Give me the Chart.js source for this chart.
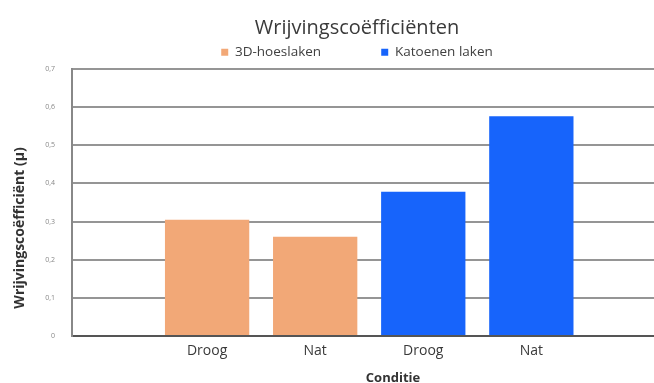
<!DOCTYPE html>
<html>
<head>
<meta charset="utf-8">
<script src="https://cdn.jsdelivr.net/npm/chart.js@4/dist/chart.umd.min.js"></script>
<style>
  body { margin: 0; background: #fff; }
  #wrap { width: 654px; height: 383px; overflow: hidden; }
  #vlak { width: 714px; height: 395px; }
</style>
</head>
<body>
<div id="wrap"><div id="vlak"><canvas id="grafico" width="714" height="395"></canvas></div></div>
<script>
// Wrijvingscoëfficiënten per conditie
const categorieen = ['Droog', 'Nat', 'Droog', 'Nat'];
const hoeslaken = [0.305, 0.26, null, null];
const katoen = [null, null, 0.378, 0.576];
const yTicks = [0, 0.1, 0.2, 0.3, 0.4, 0.5, 0.6, 0.7];

// bars op positie 1..4 van een lineaire as (zodat de as links vrij kan beginnen)
const punten = waarden => waarden
    .map((v, i) => ({ x: i + 1, y: v }))
    .filter(p => p.y !== null);

const komma = v => v === 0 ? '0' : v.toFixed(1).replace('.', ',');
const spaties = n => '\u00a0'.repeat(n);

Chart.defaults.font.family = '"Open Sans", sans-serif';

const ctx = document.getElementById('grafico').getContext('2d');
const grafiek = new Chart(ctx, {
    type: 'bar',
    data: {
        datasets: [
            { label: '3D-hoeslaken', data: punten(hoeslaken), backgroundColor: '#f2a877' },
            { label: 'Katoenen laken', data: punten(katoen), backgroundColor: '#1764fb' }
        ]
    },
    options: {
        responsive: false,
        animation: false,
        layout: { padding: 0 },
        datasets: {
            bar: { grouped: false, categoryPercentage: 1, barPercentage: 0.78 }
        },
        plugins: {
            title: {
                display: true,
                text: 'Wrijvingscoëfficiënten',
                color: '#3a3a3a',
                font: { size: 20, weight: 'normal' },
                padding: { top: 12, bottom: 1 }
            },
            legend: {
                labels: {
                    color: '#404040',
                    font: { size: 13.5 },
                    boxWidth: 7,
                    boxHeight: 7,
                    padding: 4,
                    generateLabels: chart => {
                        const items = Chart.defaults.plugins.legend.labels.generateLabels(chart);
                        items[0].text += spaties(16);
                        return items;
                    }
                }
            },
            tooltip: { enabled: false }
        },
        scales: {
            x: {
                type: 'linear',
                offset: false,
                min: -0.25,
                max: 5.69,
                afterBuildTicks: s => { s.ticks = categorieen.map((c, i) => ({ value: i + 1 })); },
                afterFit: s => { s.height = 59; },
                ticks: {
                    callback: (v, i) => categorieen[i],
                    color: '#3a3a3a',
                    font: { size: 14 },
                    padding: -1,
                    maxRotation: 0,
                    autoSkip: false
                },
                grid: { display: false },
                border: { color: '#555', width: 2 },
                title: {
                    display: true,
                    text: 'Conditie',
                    color: '#333',
                    font: { size: 13, weight: 'bold' },
                    padding: { top: 0, bottom: 9 }
                }
            },
            y: {
                min: 0,
                max: 0.7,
                afterBuildTicks: s => { s.ticks = yTicks.map(v => ({ value: v })); },
                afterFit: s => { s.width = 72; s.paddingTop = 69; },
                ticks: {
                    callback: komma,
                    color: '#888',
                    font: { size: 7 },
                    padding: 17
                },
                grid: {
                    color: c => c.tick && c.tick.value === 0 ? '#555' : '#959595',
                    lineWidth: 2,
                    drawTicks: false
                },
                border: { color: '#888', width: 2 },
                title: {
                    display: true,
                    text: 'Wrijvingscoëfficiënt (µ)' + spaties(14),
                    color: '#333',
                    font: { size: 14, weight: 'bold' },
                    padding: { top: 12, bottom: 0 }
                }
            }
        }
    }
});
</script>
</body>
</html>
